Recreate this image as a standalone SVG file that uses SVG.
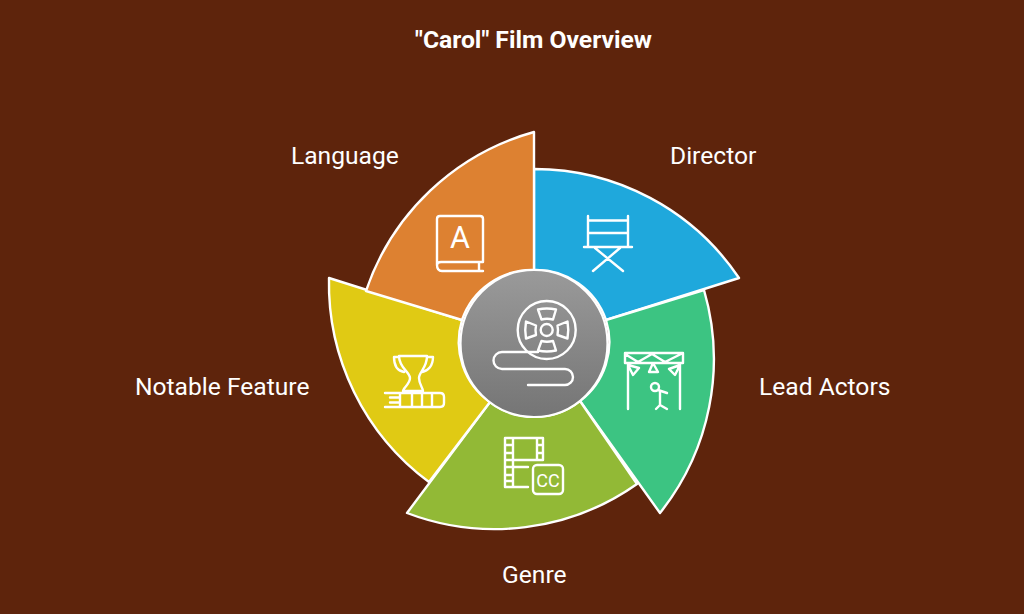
<svg xmlns="http://www.w3.org/2000/svg" width="1024" height="614" viewBox="0 0 1024 614">
<style>
.t{font-family:Roboto,"Liberation Sans",sans-serif;fill:#fff;font-size:24.6px}
.s{stroke:#fff;stroke-width:2.4;stroke-linejoin:round}
.i{fill:none;stroke:#fff;stroke-width:2.4;stroke-linecap:round;stroke-linejoin:round}
</style>
<defs><linearGradient id="g" x1="0" y1="0" x2="0" y2="1"><stop offset="0" stop-color="#9a9a9a"/><stop offset="1" stop-color="#757575"/></linearGradient></defs>
<rect width="1024" height="614" fill="#5e240c"/>
<text class="t" x="533.500" y="48" text-anchor="middle" style="font-weight:700;font-size:24.7px">"Carol" Film Overview</text>
<g id="connectors"></g>
<g id="director">
<path class="s" fill="#1fa8dc" d="M534 169A247 247 0 0 1 739 278L606 320A74 74 0 0 0 534 270Z"/>
<path class="i" d="M588 216V247M628 216V247M588 220.500H628M588 233H628M584 247H632M620 248L593 271M595 248L623 271"/>
<text class="t" x="670" y="164">Director</text>
</g>
<g id="lead-actors">
<path class="s" fill="#3cc482" d="M704 290A247 247 0 0 1 660 513L580 401A74 74 0 0 0 606 320Z"/>
<path class="i" d="M625 353H683V363H625ZM625 354L638 362L652 354L665 362L681 354M628 363V409M680 363V409M628 365L639 368L633 375ZM653 363L658 372H649ZM680 365L669 369L675 375Z"/>
<circle class="i" cx="655" cy="387" r="4"/>
<path class="i" d="M658 390L667 393M660 392V405M656 409L660 405L667 409"/>
<text class="t" x="759" y="395">Lead Actors</text>
</g>
<g id="genre">
<path class="s" fill="#92b936" d="M637 484A247 247 0 0 1 407 513L490 402A74 74 0 0 0 580 401Z"/>
<path class="i" d="M543 460V438H505V487H528M505 460H543M505 467H528M513 438V487M537 438V460M505 445H513M505 453H513M537 445H543M537 453H543M505 475H513M505 481H513"/>
<rect class="i" x="533" y="465" width="30" height="29" rx="4"/>
<text x="548" y="487" text-anchor="middle" style="font-family:Roboto,'Liberation Sans',sans-serif;font-size:18px;font-weight:400;fill:#fff">CC</text>
<text class="t" x="502" y="583">Genre</text>
</g>
<g id="notable-feature">
<path class="s" fill="#e0ca14" d="M429 482A247 247 0 0 1 329 278L462 320A74 74 0 0 0 490 402Z"/>
<path class="i" d="M399 356H427C427 368 419 372 419 378C419 384 423 388 423 391H403C403 388 410 384 410 378C410 372 399 368 399 356ZM399 357H394C394 366 398 371 404 372M427 357H433C433 366 428 371 422 372M385 393H440Q444 393 444 397V403Q444 407 440 407H385M390 397.500H400M390 402.500H400M400 393V407M412 393V407M422 393V407M432 393V407"/>
<text class="t" x="135" y="395">Notable Feature</text>
</g>
<g id="language">
<path class="s" fill="#dd8131" d="M366 291A247 247 0 0 1 534 132V270A74 74 0 0 0 462 320Z"/>
<path class="i" d="M483 262V219Q483 216 480 216H440Q437 216 437 219V265M437 265Q437 262 441 262H483M437 265Q437 271 442 271H483M479 262V271"/>
<text x="460" y="248" text-anchor="middle" style="font-family:Roboto,'Liberation Sans',sans-serif;font-size:30.500px;font-weight:400;fill:#fff">A</text>
<text class="t" x="291" y="164">Language</text>
</g>
<g id="center">
<circle cx="534" cy="343.500" r="73.500" fill="url(#g)" stroke="#fff" stroke-width="2.2"/>
<circle class="i" cx="546.700" cy="330" r="29"/>
<circle class="i" cx="546.700" cy="330" r="6"/>
<path class="i" d="M538 309.500Q546.700 307.500 556 309.500L553 319.500Q546.700 318 541.500 319.500ZM538 350.500Q546.700 352.500 556 350.500L553 341Q546.700 342.500 541.500 341ZM526 321.500Q524.500 330 526 338.500L536 335Q535 330 536 325.500ZM567.500 321.500Q569 330 567.500 338.500L557.500 335Q558.500 330 557.500 325.500Z"/>
<path class="i" d="M538 352H502A8.500 8.500 0 0 0 502 369H565A8 8 0 0 1 565 385H528"/>
</g>
</svg>
